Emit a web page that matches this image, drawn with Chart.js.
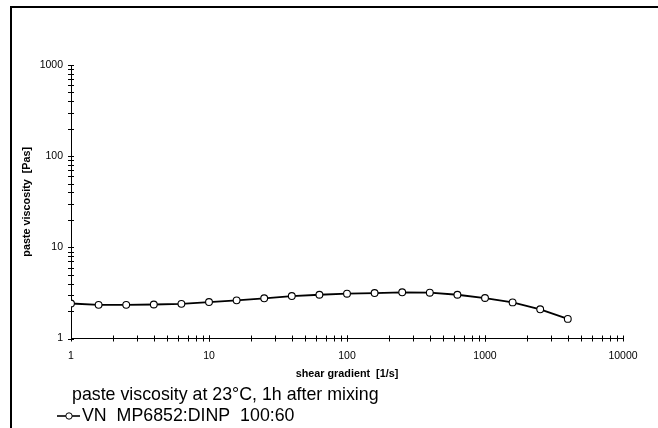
<!DOCTYPE html>
<html>
<head>
<meta charset="utf-8">
<script src="https://cdn.jsdelivr.net/npm/chart.js@4/dist/chart.umd.min.js"></script>
<style>
    body { margin: 0; background: #fff; }
    #wrap { position: relative; width: 658px; height: 428px; }
</style>
</head>
<body>
<div id="wrap"><canvas id="myChart" width="658" height="428"></canvas></div>
<script>
const shearRates = [1, 1.585, 2.512, 3.981, 6.31, 10, 15.85, 25.12, 39.81, 63.1, 100, 158.5, 251.2, 398.1, 631, 1000, 1585, 2512, 3981];
const viscosity = [2.42, 2.34, 2.34, 2.36, 2.40, 2.51, 2.62, 2.76, 2.92, 3.02, 3.10, 3.15, 3.21, 3.18, 3.02, 2.78, 2.49, 2.09, 1.64];
const xTickLabels = [1, 10, 100, 1000, 10000];
const yTickLabels = [1, 10, 100, 1000];
const seriesName = 'VN  MP6852:DINP  100:60';
const noteText = 'paste viscosity at 23°C, 1h after mixing';
const xTitle = 'shear gradient  [1/s]';
const yTitle = 'paste viscosity  [Pas]';

const FONT = "'Liberation Sans', Arial, sans-serif";
Chart.defaults.font.family = FONT;
Chart.defaults.color = '#000';

const ctx = document.getElementById('myChart');

// cross ticks at every 1..9 x 10^k along both axes
const crossTicks = {
    id: 'crossTicks',
    afterDraw(chart) {
        const c = chart.ctx;
        const xs = chart.scales.x, ys = chart.scales.y;
        const len = 3;
        c.save();
        c.strokeStyle = '#000';
        c.lineWidth = 1;
        c.beginPath();
        for (let d = xs.min; d < xs.max; d *= 10) {
            for (let m = 1; m <= 10; m++) {
                const px = Math.round(xs.getPixelForValue(m * d)) + 0.5;
                c.moveTo(px, xs.top - len);
                c.lineTo(px, xs.top + len);
            }
        }
        for (let d = ys.min; d < ys.max; d *= 10) {
            for (let m = 1; m <= 10; m++) {
                const py = Math.round(ys.getPixelForValue(m * d)) + 0.5;
                c.moveTo(ys.right - len, py);
                c.lineTo(ys.right + len, py);
            }
        }
        c.stroke();
        c.restore();
    }
};

const extras = {
    id: 'extras',
    afterDraw(chart) {
        const c = chart.ctx;
        c.save();
        // frame
        c.strokeStyle = '#000';
        c.lineWidth = 2;
        c.beginPath();
        c.moveTo(11, 428);
        c.lineTo(11, 7);
        c.lineTo(658, 7);
        c.stroke();
        // note
        c.fillStyle = '#000';
        c.textBaseline = 'middle';
        c.font = '17.8px ' + FONT;
        c.fillText(noteText, 72, 395);
        // legend
        c.lineWidth = 1.6;
        c.beginPath();
        c.moveTo(57, 416);
        c.lineTo(80, 416);
        c.stroke();
        c.beginPath();
        c.arc(69, 416, 3.2, 0, Math.PI * 2);
        c.fillStyle = '#fff';
        c.fill();
        c.lineWidth = 1;
        c.stroke();
        c.fillStyle = '#000';
        c.fillText(seriesName, 82, 416);
        c.restore();
    }
};

const chart = new Chart(ctx, {
    type: 'line',
    data: {
        datasets: [{
            label: seriesName,
            data: shearRates.map((x, i) => ({ x: x, y: viscosity[i] })),
            borderColor: '#000',
            borderWidth: 1.8,
            pointRadius: 3.4,
            pointBorderWidth: 1.1,
            pointBackgroundColor: '#fff',
            pointBorderColor: '#000',
            tension: 0
        }]
    },
    options: {
        responsive: false,
        animation: false,
        layout: { padding: { left: 17, top: 65, right: 35, bottom: 43.6 } },
        plugins: {
            legend: { display: false },
            tooltip: { enabled: false }
        },
        scales: {
            x: {
                type: 'logarithmic',
                min: 1,
                max: 10000,
                afterBuildTicks: (axis) => { axis.ticks = xTickLabels.map(v => ({ value: v })); },
                afterFit: (axis) => { axis.height = 45.9; },
                grid: { display: true, drawOnChartArea: false, drawTicks: false },
                border: { display: true, color: '#000', width: 1 },
                ticks: {
                    autoSkip: false,
                    maxRotation: 0,
                    padding: 11,
                    font: { size: 10.5 },
                    callback: (v) => String(v)
                },
                title: {
                    display: true,
                    text: xTitle,
                    font: { size: 10.8, weight: 'bold' },
                    padding: { top: 4, bottom: 4 }
                }
            },
            y: {
                type: 'logarithmic',
                min: 1,
                max: 1000,
                afterBuildTicks: (axis) => { axis.ticks = yTickLabels.map(v => ({ value: v })); },
                afterFit: (axis) => { axis.width = 54; },
                grid: { display: true, drawOnChartArea: false, drawTicks: false },
                border: { display: true, color: '#000', width: 1 },
                ticks: {
                    autoSkip: false,
                    padding: 8,
                    font: { size: 10.5 },
                    callback: (v) => String(v)
                },
                title: {
                    display: true,
                    text: yTitle,
                    font: { size: 10.8, weight: 'bold' },
                    padding: { top: 4, bottom: 4 }
                }
            }
        }
    },
    plugins: [crossTicks, extras]
});
</script>
</body>
</html>
